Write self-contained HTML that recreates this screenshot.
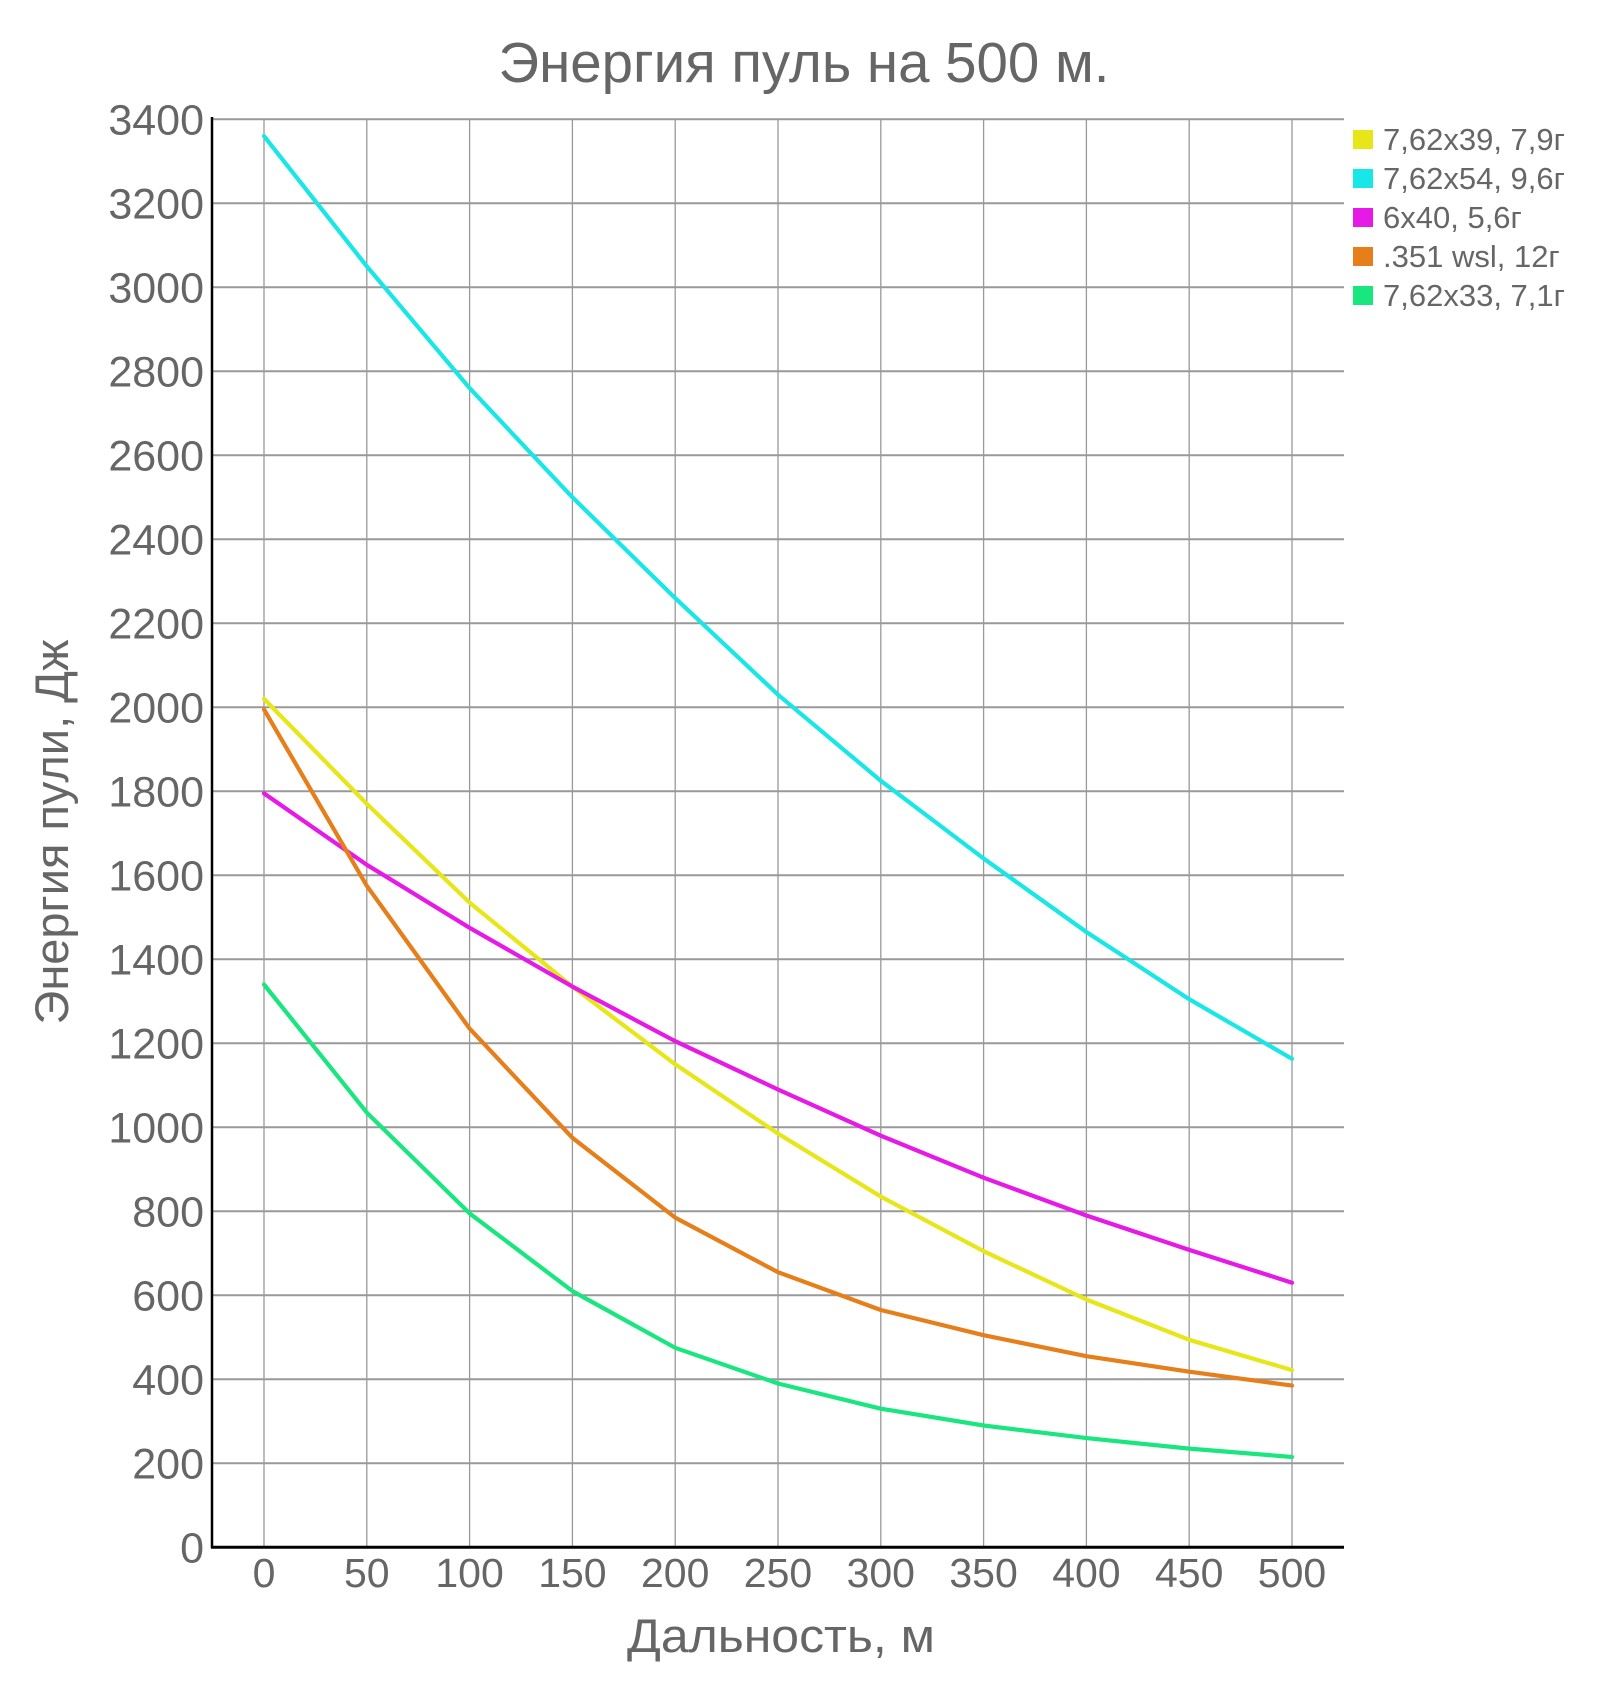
<!DOCTYPE html>
<html><head><meta charset="utf-8"><style>
html,body{margin:0;padding:0;background:#fff;}
svg{display:block;font-family:"Liberation Sans","DejaVu Sans",sans-serif;}
</style></head><body>
<svg id="c" width="1599" height="1692" viewBox="0 0 1599 1692" xmlns="http://www.w3.org/2000/svg">
<rect width="1599" height="1692" fill="#fff"/>
<text x="804" y="82" font-size="57" fill="#666" text-anchor="middle" textLength="611" lengthAdjust="spacingAndGlyphs">Энергия пуль на 500 м.</text>
<g id="grid"></g>
<g id="series" fill="none" stroke-width="4.2" stroke-linejoin="round" stroke-linecap="round"></g>
<line x1="212" y1="117" x2="212" y2="1548" stroke="#000" stroke-width="2.5"/>
<line x1="211" y1="1547.3" x2="1344" y2="1547.3" stroke="#000" stroke-width="3"/>
<text x="68" y="832" font-size="47" fill="#666" text-anchor="middle" transform="rotate(-90 68 832)" dy="0">Энергия пули, Дж</text>
<text x="781" y="1652" font-size="47" fill="#666" text-anchor="middle" textLength="308" lengthAdjust="spacingAndGlyphs">Дальность, м</text>
<g id="legend" font-size="31" fill="#666">
<rect x="1353" y="130" width="20" height="19" fill="#e6e619"/><text x="1383" y="150">7,62x39, 7,9г</text>
<rect x="1353" y="169" width="20" height="19" fill="#19e6e6"/><text x="1383" y="189">7,62x54, 9,6г</text>
<rect x="1353" y="208" width="20" height="19" fill="#e619e6"/><text x="1383" y="228">6x40, 5,6г</text>
<rect x="1353" y="247" width="20" height="19" fill="#e67e19"/><text x="1383" y="267">.351 wsl, 12г</text>
<rect x="1353" y="286" width="20" height="19" fill="#19e67e"/><text x="1383" y="306">7,62x33, 7,1г</text>
</g>
</svg>
<script>
var NS="http://www.w3.org/2000/svg";
var g=document.getElementById('grid'),s=document.getElementById('series');
function el(p,tag,a,txt){var e=document.createElementNS(NS,tag);for(var k in a)e.setAttribute(k,a[k]);if(txt!=null)e.textContent=txt;p.appendChild(e);return e;}
var x0=264,dx=102.8,y0=1547.3,ky=0.42;
for(var i=0;i<=10;i++){var x=x0+i*dx;el(g,'line',{x1:x,y1:119,x2:x,y2:1547,stroke:'#999','stroke-width':1.3});
el(g,'text',{x:x,y:1587,'font-size':41,fill:'#666','text-anchor':'middle'},String(i*50));}
for(var v=0;v<=3400;v+=200){var y=y0-v*ky;if(v>0)el(g,'line',{x1:212,y1:y,x2:1344,y2:y,stroke:'#999','stroke-width':2});
el(g,'text',{x:204,y:y+15,'font-size':43,fill:'#666','text-anchor':'end'},String(v));}
var data=[
['#19e6e6',[3360,3050,2760,2500,2260,2030,1825,1640,1465,1305,1163]],
['#e6e619',[2020,1770,1535,1335,1150,985,835,705,590,494,422]],
['#e619e6',[1795,1625,1475,1335,1205,1090,980,880,790,708,630]],
['#e67e19',[1995,1575,1235,975,785,655,565,505,455,418,385]],
['#19e67e',[1340,1035,795,610,475,390,330,290,260,235,215]]];
data.forEach(function(d){var pts=d[1].map(function(v,i){return (x0+i*dx)+','+(y0-v*ky).toFixed(1);}).join(' ');
el(s,'polyline',{points:pts,stroke:d[0]});});
</script>
</body></html>
